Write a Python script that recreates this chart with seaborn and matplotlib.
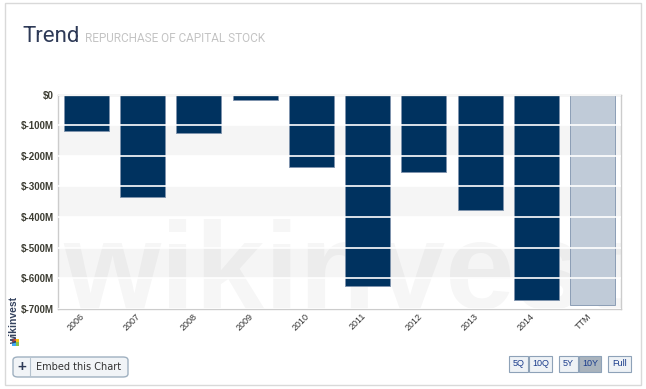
import matplotlib
matplotlib.use("Agg")
import matplotlib.pyplot as plt
from matplotlib.patches import Rectangle, FancyBboxPatch
import seaborn as sns
import pandas as pd

# values (millions of USD, negative = repurchase)
PERIODS = ["2006", "2007", "2008", "2009", "2010", "2011", "2012", "2013", "2014", "TTM"]
REPURCHASE_M = [-119, -333, -126, -16, -236, -627, -253, -378, -670, -689]
BAR_COLORS = ["#00325f"] * 9 + ["#c0cbd8"]
Y_TICKS = [0, -100, -200, -300, -400, -500, -600, -700]
Y_TICK_LABELS = ["$0", "$-100M", "$-200M", "$-300M", "$-400M", "$-500M", "$-600M", "$-700M"]

df = pd.DataFrame({"period": PERIODS, "value": REPURCHASE_M})

sns.set_theme(style="white")
plt.rcParams["font.family"] = ["Liberation Sans", "DejaVu Sans"]

W, H = 646, 389
fig = plt.figure(figsize=(W / 100, H / 100), dpi=100)
fig.patch.set_facecolor("white")

# outer panel border
fig.add_artist(Rectangle((5 / W, 1 - 385 / H), 636 / W, 382 / H, transform=fig.transFigure,
                         fill=False, edgecolor="#d9d9d9", lw=1))

# title
fig.text(22 / W, 1 - 42 / H, "Trend", fontsize=16, color="#2e3a57", family="Roboto")
fig.text(85 / W, 1 - 42 / H, "REPURCHASE OF CAPITAL STOCK", fontsize=8.5,
         color="#c4c4c4", family="Roboto")

ax = fig.add_axes([58 / W, 1 - 308.7 / H, 563 / W, 214 / H])

# alternating bands
for lo in (-200, -400, -600):
    ax.axhspan(lo, lo + 100, color="#f5f5f5", zorder=0, lw=0)

# watermark
ax.text(0.009, 0.0, "wikinvest", transform=ax.transAxes, fontsize=90, color="black",
        alpha=0.035, fontweight="bold", ha="left", va="baseline", zorder=0.5, clip_on=True)

sns.barplot(data=df, x="period", y="value", hue="period", palette=BAR_COLORS,
            legend=False, width=0.8, edgecolor="#7f93ad", linewidth=0.6, ax=ax,
            saturation=1, zorder=1)

ax.set_ylim(-700, 0)
ax.set_xlim(-0.5, len(PERIODS) - 0.5)
ax.set_yticks(Y_TICKS)
ax.set_yticklabels(Y_TICK_LABELS)
ax.yaxis.grid(True, color="white", lw=1.2)
ax.set_axisbelow(False)
for line in ax.get_ygridlines():
    line.set_zorder(2)

ax.set_xlabel("")
ax.set_ylabel("")
ax.tick_params(axis="both", length=0, pad=3, labelsize=7, colors="#333333")
ax.tick_params(axis="x", pad=2, labelsize=6.5)
plt.setp(ax.get_xticklabels(), rotation=45, ha="right", va="top", rotation_mode="default")
for lbl in ax.get_yticklabels():
    lbl.set_fontweight("bold")
    lbl.set_color("#3d3d33")
for spine in ax.spines.values():
    spine.set_color("#cccccc")
    spine.set_linewidth(1)

# side brand label with small logo
fig.text(14.5 / W, 1 - 320 / H, "wikinvest", rotation=90, fontsize=7.5, color="#34425e",
         fontweight="bold", ha="center", va="center")
for i, c in enumerate(["#e84c3d", "#f1c40f", "#3fa9f5", "#8bc34a"]):
    fig.add_artist(Rectangle(((12 + (i % 2) * 3.5) / W, 1 - (342 + (i // 2) * 3.5) / H),
                             3.5 / W, 3.5 / H, transform=fig.transFigure, color=c, lw=0))

# embed button
fig.add_artist(FancyBboxPatch((13 / W, 1 - 377 / H), 115 / W, 20 / H,
                              boxstyle="round,pad=0,rounding_size=0.008",
                              transform=fig.transFigure, facecolor="#f1f4f7",
                              edgecolor="#9fb0c0", lw=1))
fig.add_artist(plt.Line2D([30 / W, 30 / W], [1 - 376 / H, 1 - 358 / H],
                          transform=fig.transFigure, color="#b5c2ce", lw=0.8))
fig.text(21.5 / W, 1 - 367.5 / H, "+", fontsize=11, color="#2e3a57", ha="center", va="center",
         fontweight="bold")
fig.text(36 / W, 1 - 367.5 / H, "Embed this Chart", fontsize=7, color="#333333",
         ha="left", va="center", family="DejaVu Sans")

# range buttons
buttons = [("5Q", 509, 19, "#eef2f6"), ("10Q", 529, 23, "#eef2f6"),
           ("5Y", 559, 19, "#eef2f6"), ("10Y", 579, 22, "#a9b3bd"),
           ("Full", 608, 23, "#eef2f6")]
for label, x0, w, fc in buttons:
    fig.add_artist(Rectangle((x0 / W, 1 - 372 / H), w / W, 16 / H, transform=fig.transFigure,
                             facecolor=fc, edgecolor="#8ea2b8", lw=0.8))
    fig.text((x0 + w / 2) / W, 1 - 364 / H, label, fontsize=6.5, color="#1a3c8c",
             ha="center", va="center")

fig.savefig("out.png", dpi=100)
